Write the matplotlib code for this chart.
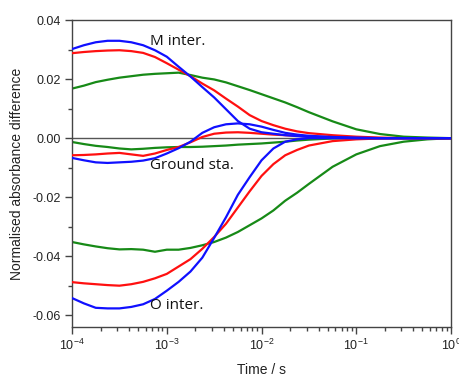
import numpy as np
import matplotlib
matplotlib.use("Agg")
import matplotlib.pyplot as plt
from matplotlib.ticker import FuncFormatter, LogLocator, MultipleLocator

plt.rcParams['font.family'] = ['Liberation Sans', 'DejaVu Sans']
plt.rcParams['mathtext.default'] = 'regular'

# log10(time / s)
log_t = [-4, -3.875, -3.75, -3.625, -3.5, -3.375, -3.25, -3.125, -3, -2.875,
         -2.75, -2.625, -2.5, -2.375, -2.25, -2.125, -2, -1.875, -1.75, -1.625,
         -1.5, -1.25, -1, -0.75, -0.5, -0.25, 0]

# M intermediate
m_blue = [0.0302, 0.0315, 0.0325, 0.033, 0.033, 0.0325, 0.0315, 0.0298, 0.0276,
          0.0242, 0.0209, 0.0173, 0.0138, 0.0098, 0.0058, 0.0032, 0.002, 0.0015,
          0.001, 0.0007, 0.0004, 0.0002, 0.0, 0.0, 0.0, 0.0, 0.0]
m_red = [0.0288, 0.0292, 0.0295, 0.0297, 0.0298, 0.0295, 0.0289, 0.0275, 0.0254,
         0.0232, 0.021, 0.0185, 0.0162, 0.0134, 0.0107, 0.0078, 0.0058, 0.0044,
         0.0032, 0.0023, 0.0017, 0.001, 0.0005, 0.0002, 0.0, 0.0, 0.0]
m_green = [0.0168, 0.0178, 0.019, 0.0198, 0.0205, 0.021, 0.0215, 0.0218, 0.022,
           0.0222, 0.0214, 0.0205, 0.0199, 0.0189, 0.0176, 0.0163, 0.0149, 0.0135,
           0.0121, 0.0105, 0.0088, 0.0057, 0.003, 0.0014, 0.0005, 0.0002, 0.0]

# Ground state
g_blue = [-0.0067, -0.0075, -0.0082, -0.0084, -0.0082, -0.008, -0.0076, -0.0068,
          -0.0052, -0.0034, -0.0012, 0.0018, 0.0037, 0.0047, 0.005, 0.0047, 0.0039,
          0.0028, 0.0018, 0.0012, 0.0008, 0.0004, 0.0002, 0.0, 0.0, 0.0, 0.0]
g_red = [-0.0058, -0.0057, -0.0055, -0.0052, -0.005, -0.0055, -0.006, -0.0052,
         -0.004, -0.003, -0.0014, 0.0004, 0.0015, 0.0019, 0.002, 0.0018, 0.0015,
         0.0012, 0.001, 0.0008, 0.0006, 0.0003, 0.0001, 0.0, 0.0, 0.0, 0.0]
g_green = [-0.0013, -0.002, -0.0026, -0.003, -0.0035, -0.0038, -0.0036, -0.0033,
           -0.0031, -0.003, -0.003, -0.0029, -0.0027, -0.0025, -0.0022, -0.002,
           -0.0018, -0.0015, -0.0012, -0.0008, -0.0005, -0.0001, 0.0, 0.0, 0.0,
           0.0, 0.0]

# O intermediate
o_blue = [-0.0542, -0.056, -0.0575, -0.0577, -0.0577, -0.0572, -0.0563, -0.0545,
          -0.0517, -0.0487, -0.0452, -0.0405, -0.0338, -0.0268, -0.0192, -0.0132,
          -0.0075, -0.0035, -0.0012, -0.0004, 0.0, 0.0, 0.0, 0.0, 0.0, 0.0, 0.0]
o_red = [-0.0488, -0.0492, -0.0495, -0.0498, -0.050, -0.0495, -0.0487, -0.0475,
         -0.046, -0.0435, -0.041, -0.0375, -0.0335, -0.029, -0.0235, -0.018,
         -0.0128, -0.0088, -0.0058, -0.004, -0.0025, -0.001, -0.0004, -0.0001,
         0.0, 0.0, 0.0]
o_green = [-0.0352, -0.036, -0.0367, -0.0373, -0.0377, -0.0376, -0.0378, -0.0385,
           -0.0378, -0.0378, -0.0372, -0.0363, -0.0352, -0.0337, -0.0318, -0.0295,
           -0.0272, -0.0245, -0.0212, -0.0185, -0.0155, -0.0097, -0.0055, -0.0027,
           -0.0012, -0.0004, 0.0]

labels = ["M inter.", "Ground sta.", "O inter."]
label_x = [6.65e-4, 6.65e-4, 6.65e-4]
label_y = [0.0329, -0.0092, -0.0568]

t = 10.0 ** np.array(log_t)

fig = plt.figure(figsize=(4.59, 3.80), dpi=100)
ax = fig.add_axes([0.157, 0.1395, 0.8256, 0.8075])

ax.axhline(0, color='#555555', lw=1.0, zorder=1)

lw = 1.6
for g, r, b in [(m_green, m_red, m_blue), (g_green, g_red, g_blue), (o_green, o_red, o_blue)]:
    ax.plot(t, g, color='#178a17', lw=lw, zorder=2)
    ax.plot(t, r, color='#ff1010', lw=lw, zorder=3)
    ax.plot(t, b, color='#1010ff', lw=lw, zorder=4)

for s, x, y in zip(labels, label_x, label_y):
    ax.text(x, y, s, family=['Open Sans', 'DejaVu Sans'], fontsize=11,
            color='#111111', ha='left', va='center', zorder=5)

ax.set_xscale('log')
ax.set_xlim(1e-4, 1)
ax.set_ylim(-0.064, 0.04)
ax.xaxis.set_major_locator(LogLocator(base=10, numticks=10))
ax.xaxis.set_minor_locator(LogLocator(base=10, subs=np.arange(2, 10), numticks=20))
ax.yaxis.set_major_locator(MultipleLocator(0.02))
ax.yaxis.set_minor_locator(MultipleLocator(0.01))
ax.yaxis.set_major_formatter(FuncFormatter(lambda v, p: ("%.2f" % v).replace('−', '-')))

for sp in ax.spines.values():
    sp.set_color('#444444')
    sp.set_linewidth(1.0)

ax.tick_params(axis='both', which='major', direction='out', length=5, width=1,
               color='#444444', labelsize=9, labelcolor='#222222', pad=3)
ax.tick_params(axis='both', which='minor', direction='out', length=3, width=1,
               color='#444444')
ax.tick_params(top=False, right=False, which='both')

ax.set_xlabel('Time / s', fontsize=10, color='#222222', labelpad=7)
ax.set_ylabel('Normalised absorbance difference', fontsize=10, color='#222222', labelpad=6)

fig.savefig('out.png', dpi=100)
